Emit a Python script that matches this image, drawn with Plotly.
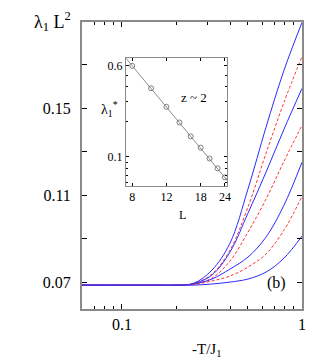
import plotly.graph_objects as go
import math

# ---- main panel data: lambda_1 L^2 vs -T/J1 ----
T = [0.06, 0.1, 0.15, 0.2, 0.251, 0.316, 0.398, 0.501, 0.631, 0.794, 1.0]
blue_1 = [0.0686, 0.0686, 0.0686, 0.0686, 0.0695, 0.0755, 0.0879, 0.1128, 0.1413, 0.1675, 0.1896]
red_1 = [0.0686, 0.0686, 0.0686, 0.0686, 0.0693, 0.0737, 0.0847, 0.1045, 0.1293, 0.1528, 0.1739]
blue_2 = [0.0686, 0.0686, 0.0686, 0.0686, 0.0693, 0.0732, 0.0838, 0.1017, 0.1206, 0.1404, 0.1592]
red_2 = [0.0686, 0.0686, 0.0686, 0.0686, 0.0691, 0.0718, 0.0797, 0.0930, 0.1082, 0.1256, 0.1422]
blue_3 = [0.0686, 0.0686, 0.0686, 0.0686, 0.0691, 0.0714, 0.0760, 0.0815, 0.0907, 0.1054, 0.1252]
red_3 = [0.0686, 0.0686, 0.0686, 0.0686, 0.0689, 0.0705, 0.0728, 0.0769, 0.0829, 0.0939, 0.1095]
blue_4 = [0.0686, 0.0686, 0.0686, 0.0686, 0.0686, 0.0691, 0.0700, 0.0714, 0.0746, 0.0810, 0.0912]

main_yticks = [0.07, 0.09, 0.11, 0.13, 0.15, 0.17]
main_yticktext = ["0.07", "", "0.11", "", "0.15", ""]
main_xticks = [0.1, 1]
main_xticktext = ["0.1", "1"]
main_xminor = [0.07, 0.08, 0.09, 0.2, 0.3, 0.4, 0.5, 0.6, 0.7, 0.8, 0.9]

# ---- inset data: lambda_1^* vs L ----
L = [8, 10, 12, 14, 16, 18, 20, 22, 24]
lam_star = [0.600, 0.386, 0.268, 0.197, 0.150, 0.120, 0.0970, 0.0800, 0.0670]
L_fit = [7.4, 25.0]
lam_fit = [0.701, 0.0614]
inset_xticks = [8, 12, 18, 24]
inset_yticks = [0.1, 0.6]
inset_yminor = [0.06, 0.07, 0.08, 0.09, 0.2, 0.3, 0.4, 0.5]

BLUE = "#2b2bff"
RED = "#ff3030"
FRAME = "#8a8a8a"
SERIF = "Liberation Serif"

fig = go.Figure()
curves = [(blue_1, "b"), (red_1, "r"), (blue_2, "b"), (red_2, "r"),
          (blue_3, "b"), (red_3, "r"), (blue_4, "b")]
for ys, c in curves:
    fig.add_trace(go.Scatter(
        x=T, y=ys, mode="lines", line_shape="spline",
        line=dict(color=BLUE if c == "b" else RED, width=1,
                  dash="solid" if c == "b" else "3px,2px"),
        showlegend=False, hoverinfo="skip"))

fig.add_trace(go.Scatter(
    x=L_fit, y=lam_fit, mode="lines", xaxis="x2", yaxis="y2",
    line=dict(color="#707070", width=0.8), showlegend=False, hoverinfo="skip"))
fig.add_trace(go.Scatter(
    x=L, y=lam_star, mode="markers", xaxis="x2", yaxis="y2",
    marker=dict(symbol="circle-open", size=5, color="#707070", line=dict(width=0.9)),
    showlegend=False, hoverinfo="skip"))

axis_common = dict(showline=True, linecolor=FRAME, mirror="ticks", ticks="inside",
                   tickcolor="black", showgrid=False, zeroline=False)

fig.update_layout(
    width=332, height=362,
    margin=dict(l=74, r=38, t=14, b=61),
    paper_bgcolor="white", plot_bgcolor="white",
    font=dict(family=SERIF, color="black"),
    xaxis=dict(type="log", range=[math.log10(0.06), 0], tickvals=main_xticks,
               ticktext=main_xticktext, ticklen=5, tickwidth=1, linewidth=2,
               tickfont=dict(size=16, family=SERIF),
               minor=dict(tickvals=main_xminor, ticks="inside", ticklen=3,
                          tickcolor="black", tickwidth=1),
               **axis_common),
    yaxis=dict(range=[0.0576, 0.1898], tickvals=main_yticks, ticktext=main_yticktext,
               ticklen=5, tickwidth=1, linewidth=2, ticklabelstandoff=6,
               tickfont=dict(size=16, family=SERIF), **axis_common),
    xaxis2=dict(type="log", domain=[0.2, 0.659], anchor="y2",
                range=[math.log10(7.43), math.log10(24.6)], tickvals=inset_xticks,
                ticktext=[str(v) for v in inset_xticks], ticklen=3, tickwidth=1,
                linewidth=1.2, tickfont=dict(size=12, family=SERIF), **axis_common),
    yaxis2=dict(type="log", domain=[0.4286, 0.8746], anchor="x2",
                range=[math.log10(0.0565), math.log10(0.70)], tickvals=inset_yticks,
                ticktext=["0.1", "0.6"], ticklen=3, tickwidth=1, linewidth=1.2,
                tickfont=dict(size=12, family=SERIF),
                minor=dict(tickvals=inset_yminor, ticks="inside", ticklen=2,
                           tickcolor="black", tickwidth=1),
                **axis_common),
    annotations=[
        dict(text="λ<sub>1</sub> L<sup>2</sup>", xref="paper", yref="paper",
             x=-0.132, y=1.003, xanchor="center", yanchor="middle", showarrow=False,
             font=dict(size=18, family=SERIF)),
        dict(text="-T/J<sub>1</sub>", xref="paper", yref="paper",
             x=0.568, y=-0.143, xanchor="center", yanchor="middle", showarrow=False,
             font=dict(size=15, family=SERIF)),
        dict(text="(b)", xref="paper", yref="paper",
             x=0.886, y=0.0906, xanchor="center", yanchor="middle", showarrow=False,
             font=dict(size=16, family=SERIF)),
        dict(text="z ~ 2", xref="paper", yref="paper",
             x=0.509, y=0.737, xanchor="center", yanchor="middle", showarrow=False,
             font=dict(size=13, family=SERIF)),
        dict(text="λ<sub>1</sub><sup>*</sup>", xref="paper", yref="paper",
             x=0.127, y=0.697, xanchor="center", yanchor="middle", showarrow=False,
             font=dict(size=14, family=SERIF)),
        dict(text="L", xref="paper", yref="paper",
             x=0.459, y=0.3275, xanchor="center", yanchor="middle", showarrow=False,
             font=dict(size=12, family=SERIF)),
    ],
)

fig.write_html("out.html")
